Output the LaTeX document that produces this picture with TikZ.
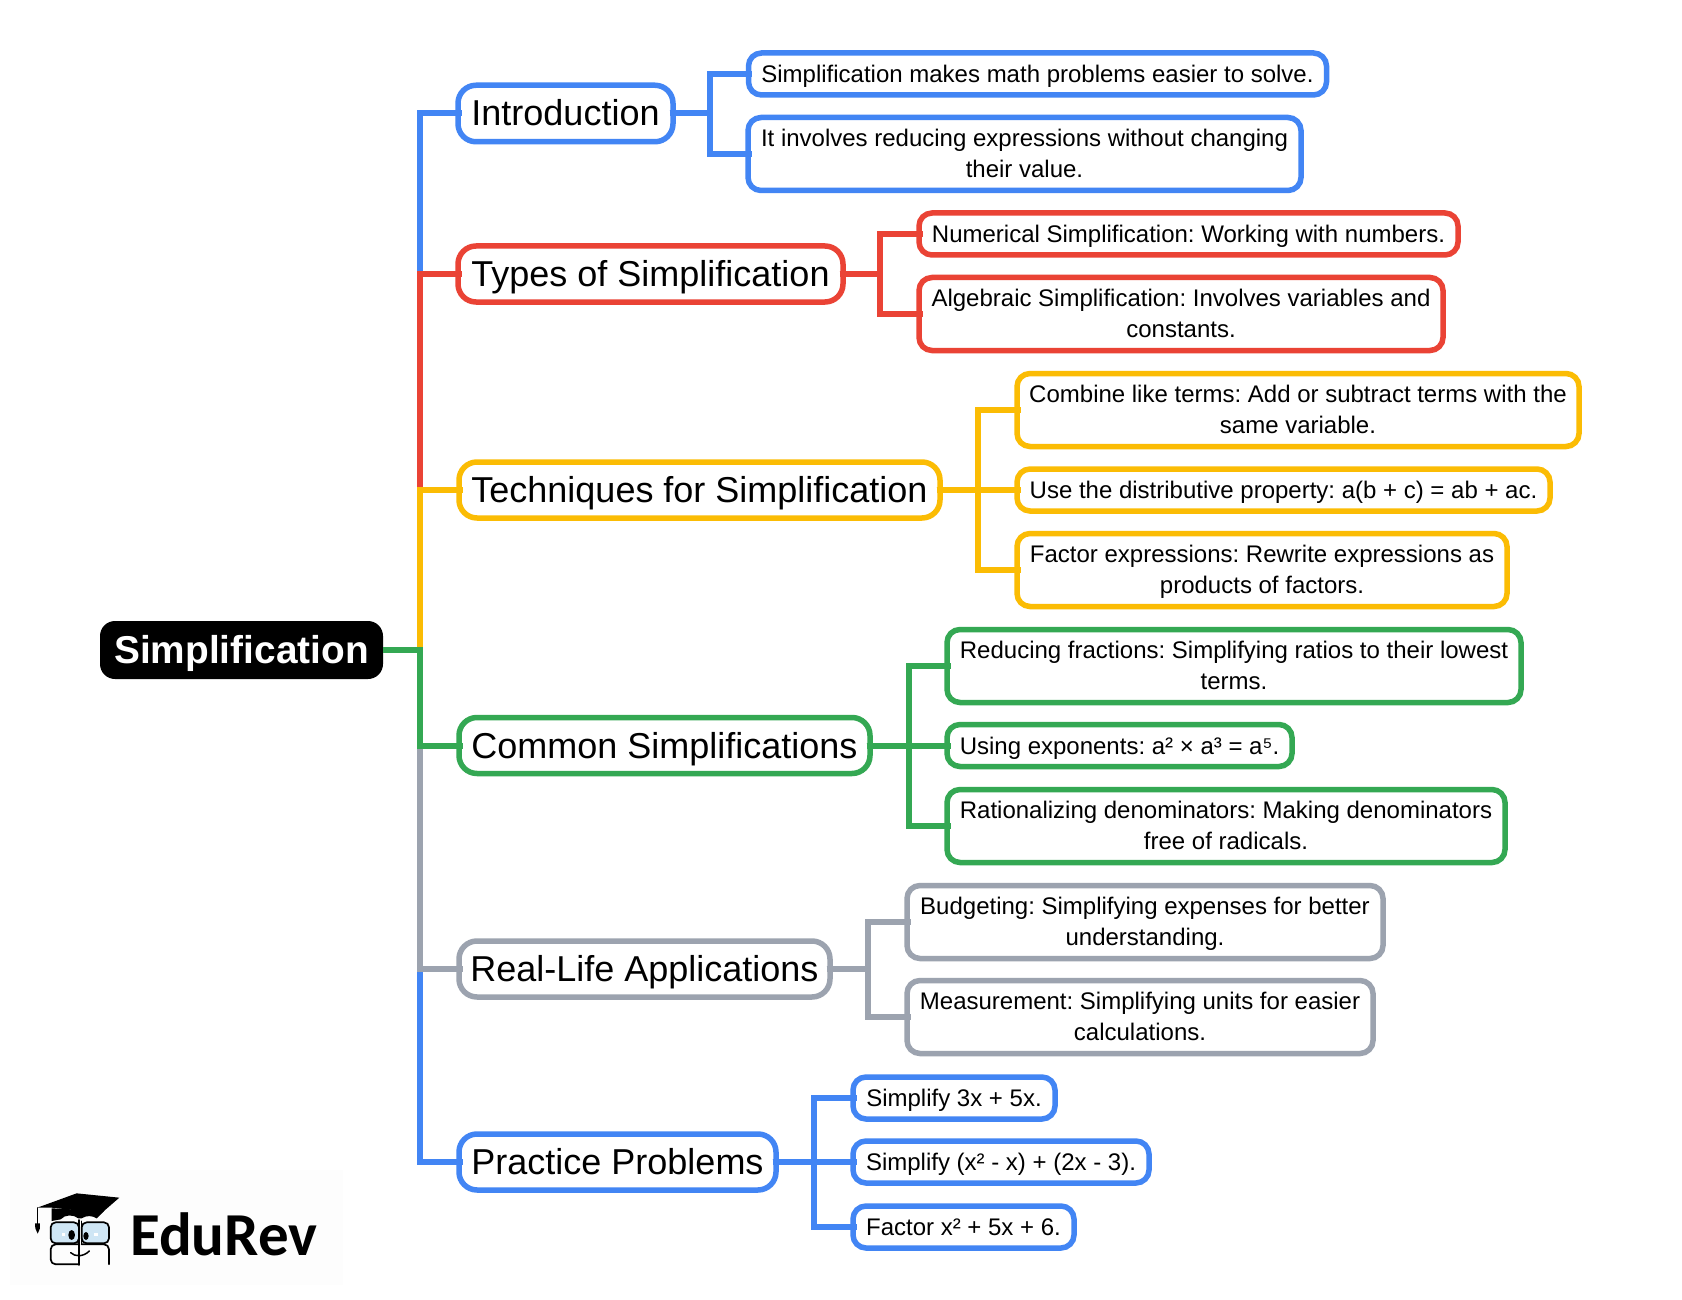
\documentclass[tikz,border=0pt]{standalone}
\usepackage{fontspec}
\setmainfont{Liberation Sans}
\newfontfamily\logofont{Carlito}
\definecolor{cblue}{HTML}{4285F4}
\definecolor{cred}{HTML}{EA4335}
\definecolor{cyellow}{HTML}{FBBC04}
\definecolor{cgreen}{HTML}{34A853}
\definecolor{cgray}{HTML}{9CA3AF}
\definecolor{lens}{HTML}{CFE6F5}
\definecolor{logoback}{HTML}{FDFDFD}
\tikzset{
  rootbox/.style={fill=black,text=white,rounded corners=15pt,inner sep=0pt,outer sep=0pt,text height=28pt,text depth=2pt,font=\fontsize{38.8}{46}\selectfont\bfseries},
  mainbox/.style={draw=#1,fill=white,line width=5.5pt,rounded corners=18pt,inner sep=0pt,outer sep=0pt,text height=26pt,text depth=1pt,font=\fontsize{36}{44}\selectfont},
  leafbox/.style={draw=#1,fill=white,line width=5.5pt,rounded corners=13pt,inner sep=0pt,outer sep=0pt,text height=17.5pt,text depth=0pt,font=\fontsize{24}{31}\selectfont},
  leaftwo/.style={draw=#1,fill=white,line width=5.5pt,rounded corners=13pt,inner sep=0pt,outer sep=0pt,align=center,text depth=1.3pt,font=\fontsize{24}{31}\selectfont},
  conn/.style={draw=#1,line width=6pt,miter limit=10},
}
\newcommand{\mapnode}[7]{\node[#1=#2,minimum width=#5pt+1pt,minimum height=#6pt+1pt] (#3) at (#4) {#7};}
\begin{document}
\frenchspacing
\begin{tikzpicture}[x=1pt,y=-1pt]
\useasboundingbox (0,0) rectangle (1682,1300);
\fill[white] (0,0) rectangle (1682,1300);
% faint logo backdrop
\fill[logoback] (10,1170) rectangle (343,1285);
% root
\node[rootbox,minimum width=283pt,minimum height=58pt] (root) at (241.5,650) {Simplification};
% trunk and branch x positions
\coordinate (tr) at (420.3,0);
\coordinate (bi) at (710,0);
\coordinate (bt) at (880,0);
\coordinate (bq) at (978,0);
\coordinate (bc) at (908.5,0);
\coordinate (br) at (868,0);
\coordinate (bp) at (814,0);
% main topics
\mapnode{mainbox}{cblue}{intro}{565.5,113.5}{214}{55.5}{Introduction}
\mapnode{mainbox}{cred}{types}{650.5,274}{384}{55}{Types of Simplification}
\mapnode{mainbox}{cyellow}{tech}{699.5,490}{480}{55}{Techniques for Simplification}
\mapnode{mainbox}{cgreen}{comm}{664.5,745.5}{410}{55}{Common Simplifications}
\mapnode{mainbox}{cgray}{real}{644.5,969}{370}{55}{Real-Life Applications}
\mapnode{mainbox}{cblue}{prac}{617.5,1162}{316}{55}{Practice Problems}
% leaves
\mapnode{leafbox}{cblue}{ia}{1037.5,74}{577}{41}{Simplification makes math problems easier to solve.}
\mapnode{leaftwo}{cblue}{ib}{1024.5,154}{552}{72}{It involves reducing expressions without changing\\their value.}
\mapnode{leafbox}{cred}{ta}{1188.5,234}{538}{41}{Numerical Simplification: Working with numbers.}
\mapnode{leaftwo}{cred}{tb}{1181,314}{523}{72}{Algebraic Simplification: Involves variables and\\constants.}
\mapnode{leaftwo}{cyellow}{qa}{1298,410}{561}{72}{Combine like terms: Add or subtract terms with the\\same variable.}
\mapnode{leafbox}{cyellow}{qb}{1283.5,490}{532}{41}{Use the distributive property: a(b + c) = ab + ac.}
\mapnode{leaftwo}{cyellow}{qc}{1262,570}{489}{72}{Factor expressions: Rewrite expressions as\\products of factors.}
\mapnode{leaftwo}{cgreen}{ca}{1234,666}{573}{72}{Reducing fractions: Simplifying ratios to their lowest\\terms.}
\mapnode{leafbox}{cgreen}{cb}{1119.5,745.5}{344}{41}{Using exponents: a² × a³ = a⁵.}
\mapnode{leaftwo}{cgreen}{cc}{1226,826}{557}{72}{Rationalizing denominators: Making denominators\\free of radicals.}
\mapnode{leaftwo}{cgray}{ra}{1145,922}{475}{72}{Budgeting: Simplifying expenses for better\\understanding.}
\mapnode{leaftwo}{cgray}{rb}{1140,1017}{465}{72}{Measurement: Simplifying units for easier\\calculations.}
\mapnode{leafbox}{cblue}{pa}{954,1098}{201}{41}{Simplify 3x + 5x.}
\mapnode{leafbox}{cblue}{pb}{1001,1162}{295}{41}{Simplify (x² - x) + (2x - 3).}
\mapnode{leafbox}{cblue}{pc}{963.5,1227}{220}{41}{Factor x² + 5x + 6.}
% trunk connectors (drawn in this order so the colours overlap as printed)
\draw[conn=cblue] (root.east) -- (tr|-root.east) -- (tr|-intro.west) -- ([xshift=3.5pt]intro.west);
\draw[conn=cred] (root.east) -- (tr|-root.east) -- (tr|-types.west) -- ([xshift=3.5pt]types.west);
\draw[conn=cyellow] (root.east) -- (tr|-root.east) -- (tr|-tech.west) -- ([xshift=3.5pt]tech.west);
\draw[conn=cblue] (root.east) -- (tr|-root.east) -- (tr|-prac.west) -- ([xshift=3.5pt]prac.west);
\draw[conn=cgray] (root.east) -- (tr|-root.east) -- (tr|-real.west) -- ([xshift=3.5pt]real.west);
\draw[conn=cgreen] (root.east) -- (tr|-root.east) -- (tr|-comm.west) -- ([xshift=3.5pt]comm.west);
% branch connectors
\draw[conn=cblue] ([xshift=-3.5pt]intro.east) -- (bi|-intro.east) -- (bi|-ia.west) -- ([xshift=3.5pt]ia.west);
\draw[conn=cblue] ([xshift=-3.5pt]intro.east) -- (bi|-intro.east) -- (bi|-ib.west) -- ([xshift=3.5pt]ib.west);
\draw[conn=cred] ([xshift=-3.5pt]types.east) -- (bt|-types.east) -- (bt|-ta.west) -- ([xshift=3.5pt]ta.west);
\draw[conn=cred] ([xshift=-3.5pt]types.east) -- (bt|-types.east) -- (bt|-tb.west) -- ([xshift=3.5pt]tb.west);
\draw[conn=cyellow] ([xshift=-3.5pt]tech.east) -- (bq|-tech.east) -- (bq|-qa.west) -- ([xshift=3.5pt]qa.west);
\draw[conn=cyellow] ([xshift=-3.5pt]tech.east) -- ([xshift=3.5pt]qb.west);
\draw[conn=cyellow] ([xshift=-3.5pt]tech.east) -- (bq|-tech.east) -- (bq|-qc.west) -- ([xshift=3.5pt]qc.west);
\draw[conn=cgreen] ([xshift=-3.5pt]comm.east) -- (bc|-comm.east) -- (bc|-ca.west) -- ([xshift=3.5pt]ca.west);
\draw[conn=cgreen] ([xshift=-3.5pt]comm.east) -- ([xshift=3.5pt]cb.west);
\draw[conn=cgreen] ([xshift=-3.5pt]comm.east) -- (bc|-comm.east) -- (bc|-cc.west) -- ([xshift=3.5pt]cc.west);
\draw[conn=cgray] ([xshift=-3.5pt]real.east) -- (br|-real.east) -- (br|-ra.west) -- ([xshift=3.5pt]ra.west);
\draw[conn=cgray] ([xshift=-3.5pt]real.east) -- (br|-real.east) -- (br|-rb.west) -- ([xshift=3.5pt]rb.west);
\draw[conn=cblue] ([xshift=-3.5pt]prac.east) -- (bp|-prac.east) -- (bp|-pa.west) -- ([xshift=3.5pt]pa.west);
\draw[conn=cblue] ([xshift=-3.5pt]prac.east) -- ([xshift=3.5pt]pb.west);
\draw[conn=cblue] ([xshift=-3.5pt]prac.east) -- (bp|-prac.east) -- (bp|-pc.west) -- ([xshift=3.5pt]pc.west);
% logo wordmark
\node[anchor=base west,inner sep=0pt,font=\logofont\bfseries\fontsize{61}{64}\selectfont] (logotext) at (130,1255) {EduRev};
% logo mascot (coordinates in 1/3 px from the crop at (30,1185))
\begin{scope}[shift={(30,1185)},x=0.3333pt,y=-0.3333pt,line cap=round,line join=round]
  \draw[fill=lens,draw=black,line width=1.7pt,rounded corners=5pt] (62,112) rectangle (147,175);
  \draw[fill=lens,draw=black,line width=1.7pt,rounded corners=5pt] (155,112) rectangle (237,175);
  \draw[black,line width=1.7pt,rounded corners=5pt] (147,178) -- (62,178) -- (62,238) -- (147,238);
  \draw[black,line width=1.7pt,rounded corners=5pt] (155,178) -- (237,178) -- (237,238);
  \draw[black,line width=1.9pt] (147,105) -- (147,240);
  \draw[black,line width=1pt] (155,108) -- (155,178);
  \fill[black] (65,70) -- (65,108) -- (92,103) .. controls (105,88) and (130,88) .. (145,100) -- (155,100) .. controls (170,90) and (188,92) .. (200,100) -- (222,78) -- cycle;
  \fill[black] (140,25) -- (268,38) -- (200,97) -- (130,75) -- (65,68) -- (22,68) -- cycle;
  \draw[black,line width=0.8pt] (22,68) -- (22,118);
  \fill[black] (15,115) -- (30,115) -- (30,130) -- (23,146) -- (16,130) -- cycle;
  \fill[black] (125,150) ellipse [x radius=10,y radius=15];
  \fill[black] (168,153) ellipse [x radius=8,y radius=12];
  \fill[white] (96,143) rectangle (106,153);
  \fill[white] (193,143) rectangle (203,153);
  \draw[black,line width=1.5pt] (122,203) .. controls (135,216) and (160,216) .. (178,198);
\end{scope}
\end{tikzpicture}
\end{document}
